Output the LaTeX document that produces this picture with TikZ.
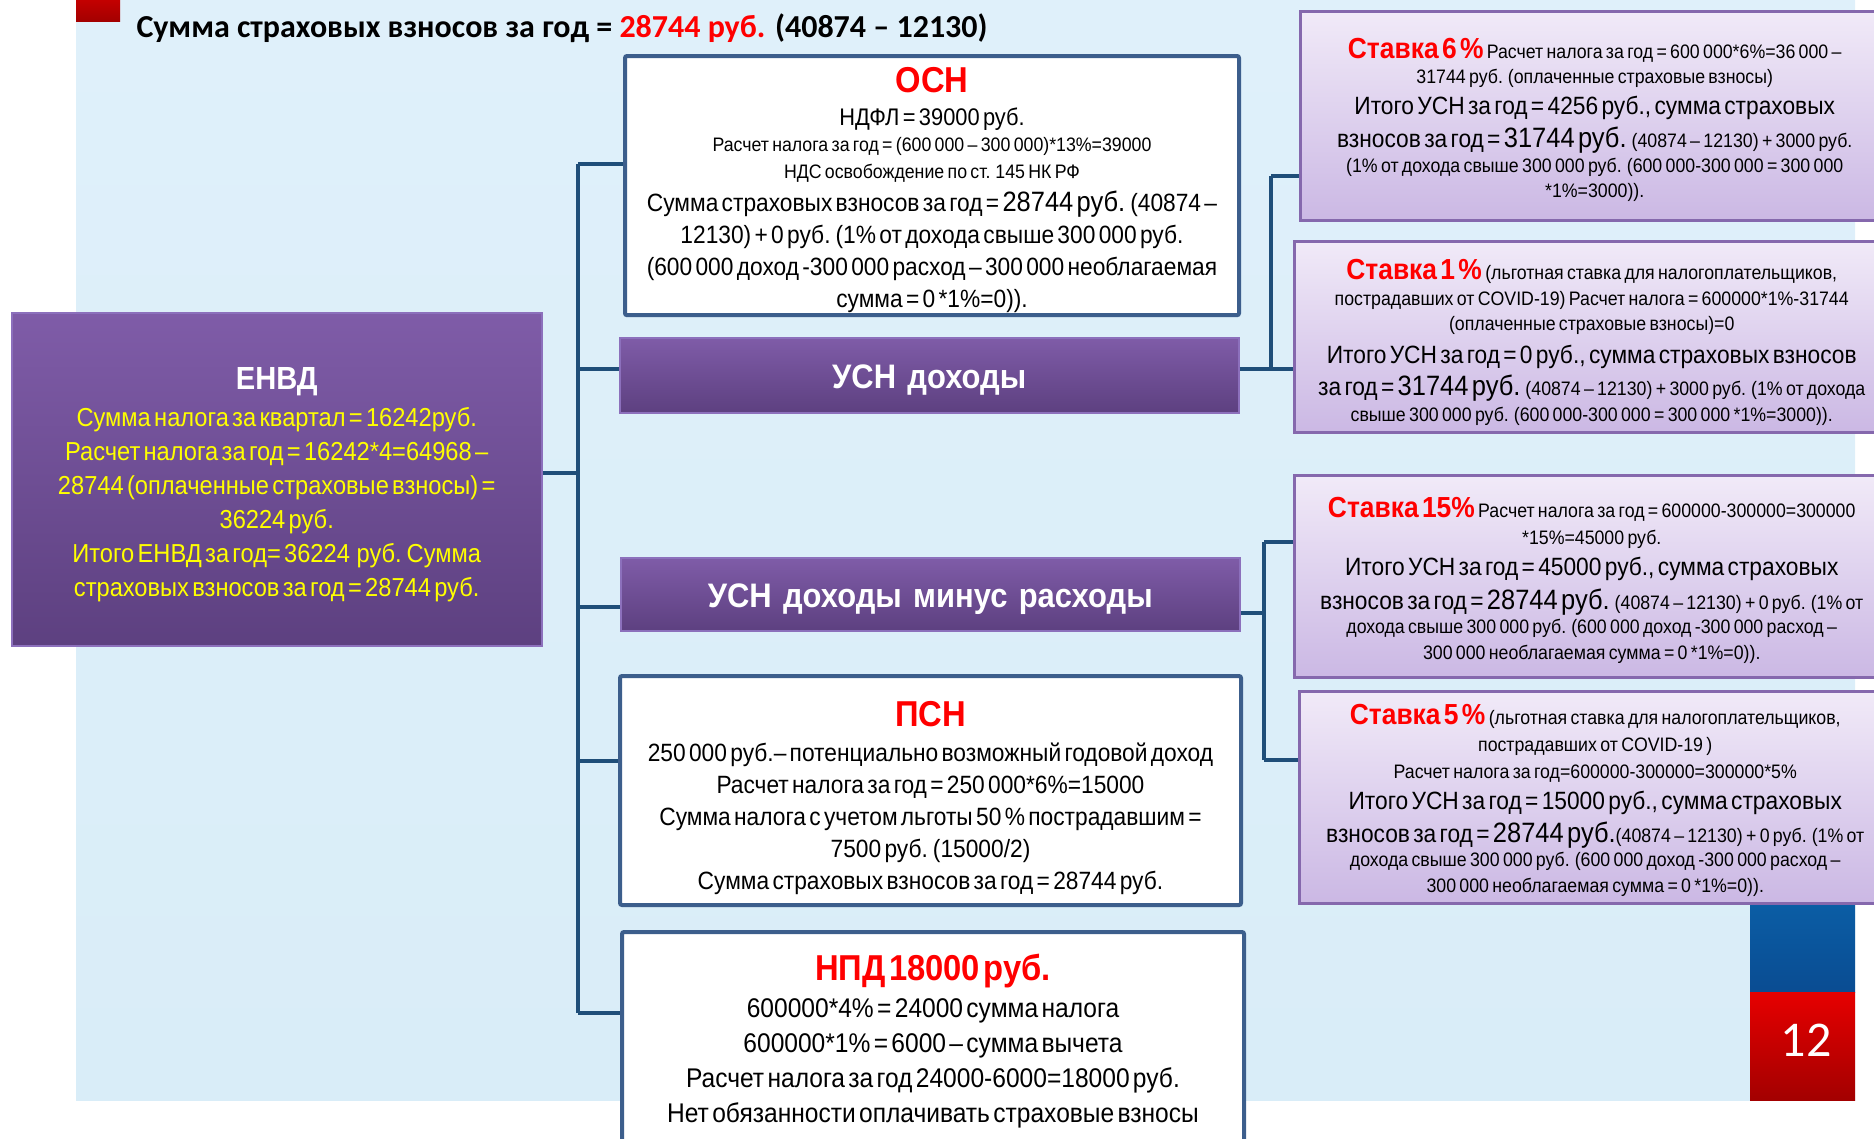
\documentclass[tikz,border=0pt]{standalone}
\usepackage{fontspec}
\setmainfont[FakeStretch=0.91]{Liberation Sans}
\newfontfamily\pagefont{Carlito}
\setlength{\parindent}{0pt}
\hyphenpenalty=10000

\definecolor{hred}{HTML}{FF0000}
\definecolor{linkblue}{HTML}{1F4E79}
\definecolor{boxblue}{HTML}{3C5E8C}
\definecolor{purpletop}{HTML}{7F5CA8}
\definecolor{purplebot}{HTML}{5D4080}
\definecolor{purpleedge}{HTML}{8C70BC}
\definecolor{lilactop}{HTML}{F1EAF8}
\definecolor{lilacbot}{HTML}{CBB8E4}
\definecolor{lilacedge}{HTML}{8568AD}
\definecolor{paneltop}{HTML}{DFF0FA}
\definecolor{panelbot}{HTML}{D9EDF8}
\definecolor{envdyellow}{HTML}{FFFF00}
\definecolor{sidetop}{HTML}{0B62AA}
\definecolor{sidebot}{HTML}{0A4C92}
\definecolor{pagetop}{HTML}{E60000}
\definecolor{pagebot}{HTML}{A30000}

% one centred line of a box: size, baselineskip, text
\newcommand{\boxline}[3]{{\fontsize{#1}{#2}\selectfont #3\par}}
\newcommand{\hot}[2][36]{{\fontsize{#1}{#1}\selectfont\bfseries\color{hred}#2}}
\newcommand{\sumfig}[1]{{\fontsize{28}{28}\selectfont #1}}
\newcommand{\smallfig}[1]{{\fontsize{19.5}{19.5}\selectfont #1}}
% invisible strut that pushes a box's text down
\newcommand{\lift}[1]{\rule{0pt}{#1pt}}

\begin{document}
\begin{tikzpicture}[x=1pt, y=-1pt,
    link/.style={draw=linkblue, line width=4pt},
    whitebox/.style={draw=boxblue, line width=4pt, fill=white, rounded corners=2pt,
        anchor=north west, inner sep=3pt, align=center},
    purplebox/.style={draw=purpleedge, line width=1.5pt, top color=purpletop,
        bottom color=purplebot, anchor=north west, inner sep=3pt, align=center, text=white},
    ratebox/.style={draw=lilacedge, line width=2.5pt, top color=lilactop,
        bottom color=lilacbot, anchor=north west, inner sep=3pt, align=center}
]
    \useasboundingbox (0,0) rectangle (1874,1138);
    \clip (0,0) rectangle (1874,1138);

    % background
    \fill[top color=paneltop, bottom color=panelbot] (76,0) rectangle (1855,1100);
    \fill[top color=pagetop!85!black, bottom color=pagebot] (76,0) rectangle (120,21);
    \fill[top color=sidetop, bottom color=sidebot] (1750,880) rectangle (1855,992);
    \fill[top color=pagetop, bottom color=pagebot] (1750,992) rectangle (1855,1100);
    \node[text=white, font=\pagefont\fontsize{50}{50}\selectfont] (page) at (1806,1040) {12};

    \node[anchor=west, font=\pagefont\bfseries\fontsize{32}{34}\selectfont] (head) at (133,28)
        {Сумма страховых взносов за год = \textcolor{hred}{28744 руб.} (40874 – 12130)};

    % left column
    \node[purplebox, minimum width=530pt, minimum height=333pt, text width=515pt] (envd) at (11,312) {%
        \boxline{32}{34}{\lift{32}\bfseries ЕНВД}
        \color{envdyellow}
        \boxline{26}{37}{Сумма налога за квартал = 16242руб.}
        \boxline{26}{34}{Расчет налога за год = 16242*4=64968 –}
        \boxline{26}{34}{28744 (оплаченные страховые взносы) =}
        \boxline{26}{34}{36224 руб.}
        \boxline{26}{34}{Итого ЕНВД за год= 36224 \ руб. Сумма}
        \boxline{26}{34}{страховых взносов за год = 28744 руб.}};

    % middle column
    \node[whitebox, minimum width=614pt, minimum height=259pt, text width=604pt] (osn) at (623,54) {%
        \boxline{36}{38}{\lift{33}\hot{ОСН}}
        \boxline{24}{33}{НДФЛ = 39000 руб.}
        \boxline{19.5}{26}{Расчет налога за год = (600 000 – 300 000)*13\%=39000}
        \boxline{19.5}{27}{НДС освобождение по ст. 145 НК РФ}
        \boxline{25}{33}{Сумма страховых взносов за год = \sumfig{28744 руб.} (40874 –}
        \boxline{25}{32}{12130) + 0 руб. (1\% от дохода свыше 300 000 руб.}
        \boxline{25}{32}{(600 000 доход -300 000 расход – 300 000 необлагаемая}
        \boxline{25}{32}{сумма = 0 *1\%=0)).}};
    \node[purplebox, minimum width=619pt, minimum height=75pt, text width=605pt,
        font=\bfseries\fontsize{34}{36}\selectfont] (usnd) at (619,337) {\lift{34}УСН доходы};
    \node[purplebox, minimum width=619pt, minimum height=73pt, text width=605pt,
        font=\bfseries\fontsize{34}{36}\selectfont] (usndr) at (620,557) {\lift{34.5}УСН доходы минус расходы};
    \node[whitebox, minimum width=621pt, minimum height=229pt, text width=611pt] (psn) at (618,674) {%
        \boxline{36}{38}{\lift{41}\hot{ПСН}}
        \boxline{25}{35}{250 000 руб.– потенциально возможный годовой доход}
        \boxline{25}{32}{Расчет налога за год = 250 000*6\%=15000}
        \boxline{25}{32}{Сумма налога с учетом льготы 50 \% пострадавшим =}
        \boxline{25}{32}{7500 руб. (15000/2)}
        \boxline{25}{32}{Сумма страховых взносов за год = 28744 руб.}};
    \node[whitebox, minimum width=622pt, minimum height=218pt, text width=612pt] (npd) at (620,930) {%
        \boxline{36}{38}{\hot{НПД 18000 руб.}}
        \boxline{27}{37}{600000*4\% = 24000 сумма налога}
        \boxline{27}{35}{600000*1\% = 6000 – сумма вычета}
        \boxline{27}{35}{Расчет налога за год 24000-6000=18000 руб.}
        \boxline{27}{35}{Нет обязанности оплачивать страховые взносы}};

    % right column
    \node[ratebox, minimum width=589pt, minimum height=209pt, text width=575pt] (st6) at (1299,10) {%
        \boxline{19.5}{26}{\lift{29.5}\hot[29]{Ставка 6 \%} Расчет налога за год = 600 000*6\%=36 000 –}
        \boxline{19.5}{25}{31744 руб. (оплаченные страховые взносы)}
        \boxline{25}{31}{Итого УСН за год = 4256 руб., сумма страховых}
        \boxline{25}{33}{взносов за год = \sumfig{31744 руб.} \smallfig{(40874 – 12130) + 3000 руб.}}
        \boxline{19.5}{25}{(1\% от дохода свыше 300 000 руб. (600 000-300 000 = 300 000}
        \boxline{19.5}{25}{*1\%=3000)).}};
    \node[ratebox, minimum width=595pt, minimum height=191pt, text width=581pt] (st1) at (1293,240) {%
        \boxline{19.5}{26}{\lift{32.5}\hot[29]{Ставка 1 \%} (льготная ставка для налогоплательщиков,}
        \boxline{19.5}{26}{пострадавших от COVID-19) Расчет налога = 600000*1\%-31744}
        \boxline{19.5}{25}{(оплаченные страховые взносы)=0}
        \boxline{25}{33}{Итого УСН за год = 0 руб., сумма страховых взносов}
        \boxline{25}{32}{за год = \sumfig{31744 руб.} \smallfig{(40874 – 12130) + 3000 руб. (1\% от дохода}}
        \boxline{19.5}{26}{свыше 300 000 руб. (600 000-300 000 = 300 000 *1\%=3000)).}};
    \node[ratebox, minimum width=595pt, minimum height=202pt, text width=581pt] (st15) at (1293,474) {%
        \boxline{19.5}{26}{\lift{28.5}\hot[29]{Ставка 15\%} Расчет налога за год = 600000-300000=300000}
        \boxline{19.5}{27}{*15\%=45000 руб.}
        \boxline{25}{31}{Итого УСН за год = 45000 руб., сумма страховых}
        \boxline{25}{34}{взносов за год = \sumfig{28744 руб.} \smallfig{(40874 – 12130) + 0 руб. (1\% от}}
        \boxline{19.5}{24}{дохода свыше 300 000 руб. (600 000 доход -300 000 расход –}
        \boxline{19.5}{26}{300 000 необлагаемая сумма = 0 *1\%=0)).}};
    \node[ratebox, minimum width=592pt, minimum height=212pt, text width=578pt] (st5) at (1298,690) {%
        \boxline{19.5}{26}{\lift{27.5}\hot[29]{Ставка 5 \%} (льготная ставка для налогоплательщиков,}
        \boxline{19.5}{27}{пострадавших от COVID-19 )}
        \boxline{19.5}{27}{Расчет налога за год=600000-300000=300000*5\%}
        \boxline{25}{31}{Итого УСН за год = 15000 руб., сумма страховых}
        \boxline{25}{33}{взносов за год = \sumfig{28744 руб.}\smallfig{(40874 – 12130) + 0 руб. (1\% от}}
        \boxline{19.5}{24}{дохода свыше 300 000 руб. (600 000 доход -300 000 расход –}
        \boxline{19.5}{26}{300 000 необлагаемая сумма = 0 *1\%=0)).}};

    % connectors, left trunk
    \coordinate (bosn) at (578,164);
    \coordinate (benvd) at (578,473);
    \coordinate (busnd) at (578,369);
    \coordinate (busndr) at (578,607);
    \coordinate (bpsn) at (578,761);
    \coordinate (bnpd) at (578,1013);
    \draw[link] (bosn) -- (bnpd);
    \draw[link] (benvd -| envd.east) -- (benvd);
    \foreach \n in {osn,usnd,usndr,psn,npd}
        \draw[link] (b\n) -- (b\n -| \n.west);

    % connectors, right side
    \coordinate (rsix) at (1271,176);
    \coordinate (rone) at (1271,369);
    \draw[link] (rsix) -- (rone);
    \draw[link] (rsix) -- (rsix -| st6.west);
    \draw[link] (rone -| usnd.east) -- (rone -| st1.west);
    \coordinate (rfift) at (1264,542);
    \coordinate (rmid) at (1264,613);
    \coordinate (rfive) at (1264,760);
    \draw[link] (rfift) -- (rfive);
    \draw[link] (rfift) -- (rfift -| st15.west);
    \draw[link] (rfive) -- (rfive -| st5.west);
    \draw[link] (rmid -| usndr.east) -- (rmid);
\end{tikzpicture}
\end{document}
